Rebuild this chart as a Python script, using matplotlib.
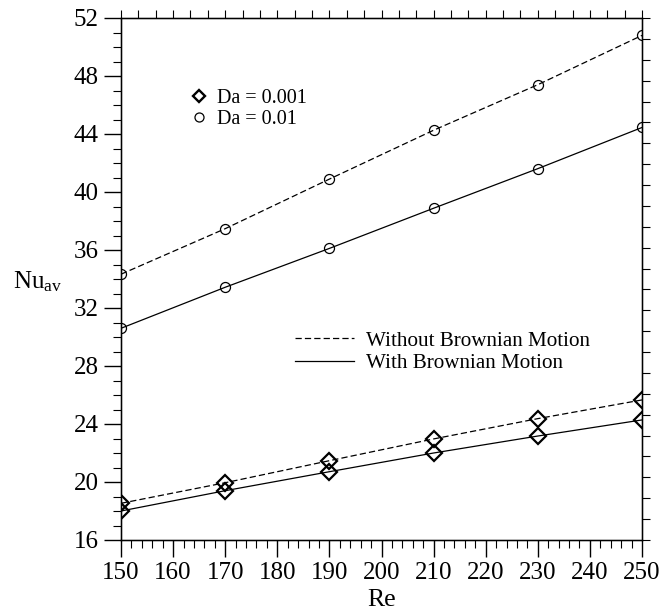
import numpy as np
import matplotlib
matplotlib.use("Agg")
import matplotlib.pyplot as plt
from matplotlib.lines import Line2D

plt.rcParams['font.family'] = ['Liberation Serif', 'DejaVu Serif']
plt.rcParams['mathtext.fontset'] = 'custom'
plt.rcParams['mathtext.rm'] = 'Liberation Serif'
plt.rcParams['mathtext.it'] = 'Liberation Serif:italic'

# Reynolds numbers
re_vals = [150, 170, 190, 210, 230, 250]

# Average Nusselt number, Da = 0.01
nu_001_without = [34.33, 37.47, 40.89, 44.26, 47.40, 50.80]
nu_001_with = [30.60, 33.43, 36.11, 38.88, 41.61, 44.45]

# Average Nusselt number, Da = 0.001
nu_0001_without = [18.53, 19.95, 21.47, 22.97, 24.37, 25.66]
nu_0001_with = [18.00, 19.40, 20.71, 22.00, 23.17, 24.28]

x_major = [150, 160, 170, 180, 190, 200, 210, 220, 230, 240, 250]
y_major = [16, 20, 24, 28, 32, 36, 40, 44, 48, 52]

W, H = 662, 612
fig = plt.figure(figsize=(W / 100, H / 100), dpi=100)
ax = fig.add_axes([121 / W, (H - 540) / H, (642 - 121) / W, (540 - 18) / H])

dash = (5, 2.5)
circ = dict(marker='o', markersize=7.2, markerfacecolor='none',
            markeredgecolor='black', markeredgewidth=0.9)
diam = dict(marker='D', markersize=7.8, markerfacecolor='none',
            markeredgecolor='black', markeredgewidth=1.6)

ax.plot(re_vals, nu_001_without, color='black', lw=0.9, dashes=dash, **circ)
ax.plot(re_vals, nu_001_with, color='black', lw=0.9, **circ)
ax.plot(re_vals, nu_0001_without, color='black', lw=0.9, dashes=dash, **diam)
ax.plot(re_vals, nu_0001_with, color='black', lw=0.9, **diam)

ax.set_xlim(150, 250)
ax.set_ylim(16, 52)
ax.set_xticks(x_major)
ax.set_yticks(y_major)
ax.set_xticks(np.arange(150, 251, 2), minor=True)
ax.set_yticks(np.arange(16, 53, 1), minor=True)
ax.tick_params(which='major', direction='out', length=12, width=1,
               labelsize=18, pad=4)
ax.tick_params(which='minor', direction='out', length=6, width=0.8)
for s in ax.spines.values():
    s.set_linewidth(1.0)

# top and right frame ticks
axt = ax.twiny()
axt.set_xlim(150, 250)
axt.set_xticks(np.linspace(150, 250, 31))
axt.tick_params(axis='x', direction='out', length=6, width=0.8, labeltop=False)
axr = ax.twinx()
axr.set_ylim(16, 52)
axr.set_yticks(np.linspace(16, 52, 26))
axr.tick_params(axis='y', direction='out', length=6, width=0.8, labelright=False)

fig.text(382 / W, 1 - 600 / H, 'Re', fontsize=18.5, ha='center', va='center')
fig.text(13 / W, 1 - 282 / H, r'$\mathrm{Nu}_{\mathrm{av}}$', fontsize=18,
         ha='left', va='center')

marker_handles = [
    Line2D([], [], linestyle='none', **{**diam, 'markersize': 6.5, 'markeredgewidth': 1.7}),
    Line2D([], [], linestyle='none', **{**circ, 'markersize': 6.5}),
]
leg1 = fig.legend(marker_handles, ['Da = 0.001', 'Da = 0.01'],
                  loc='center left', bbox_to_anchor=(190 / W, 1 - 109 / H),
                  frameon=False, fontsize=14.5, handlelength=0.9,
                  handletextpad=0.45, labelspacing=0.08, borderpad=0,
                  borderaxespad=0)

line_handles = [
    Line2D([], [], color='black', lw=0.9, dashes=dash),
    Line2D([], [], color='black', lw=0.9),
]
leg2 = fig.legend(line_handles, ['Without Brownian Motion', 'With Brownian Motion'],
                  loc='center left', bbox_to_anchor=(295 / W, 1 - 352 / H),
                  frameon=False, fontsize=15.2, handlelength=2.8,
                  handletextpad=0.55, labelspacing=0.12, borderpad=0,
                  borderaxespad=0)

fig.savefig('out.png', dpi=100)
